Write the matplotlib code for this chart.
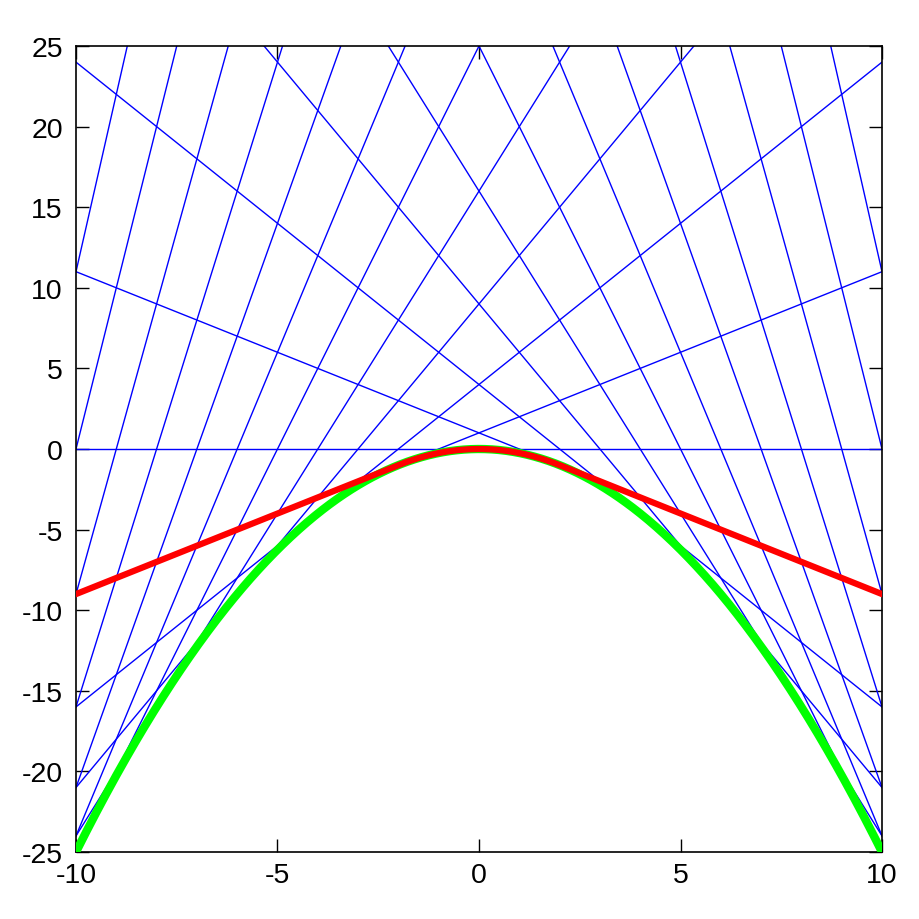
import numpy as np
import matplotlib
matplotlib.use("Agg")
import matplotlib.pyplot as plt

# tangent points on the parabola y = -x^2/4
tangent_points = [-22, -20, -18, -16, -14, -12, -10, -8, -6, -4, -2,
                  0, 2, 4, 6, 8, 10, 12, 14, 16, 18, 20, 22]
red_knee = 2  # red curve follows the parabola for |x| <= 2, then its tangents

x_range = (-10, 10)
y_range = (-25, 25)
x_ticks = [-10, -5, 0, 5, 10]
y_ticks = [-25, -20, -15, -10, -5, 0, 5, 10, 15, 20, 25]

plt.rcParams["font.family"] = ["Liberation Sans", "DejaVu Sans"]
plt.rcParams["axes.unicode_minus"] = False

fig = plt.figure(figsize=(9.2, 9.2), dpi=100)
ax = fig.add_axes([76 / 920, 67 / 920, 806 / 920, 806 / 920])

x = np.linspace(x_range[0], x_range[1], 801)

# blue tangent lines
for a in tangent_points:
    ax.plot(x, -a * x / 2 + a ** 2 / 4, color="#0000ff", lw=1.0, zorder=2)

# green parabola
ax.plot(x, -x ** 2 / 4, color="#00ff00", lw=6.0, solid_capstyle="butt", zorder=3)

# red curve: parabola near the top, tangents of slope +-1 further out
k = red_knee
red = np.where(np.abs(x) <= k, -x ** 2 / 4, -k * np.abs(x) / 2 + k ** 2 / 4)
ax.plot(x, red, color="#ff0000", lw=4.5, zorder=4)

ax.set_xlim(*x_range)
ax.set_ylim(*y_range)
ax.set_xticks(x_ticks)
ax.set_yticks(y_ticks)
ax.tick_params(direction="in", length=9.5, width=1.0, top=True, right=True,
               labelsize=20.5, colors="black")
ax.tick_params(axis="y", pad=9.5)
ax.tick_params(axis="x", pad=7)
for s in ax.spines.values():
    s.set_linewidth(1.2)

fig.savefig("out.png", dpi=100, facecolor="white")
